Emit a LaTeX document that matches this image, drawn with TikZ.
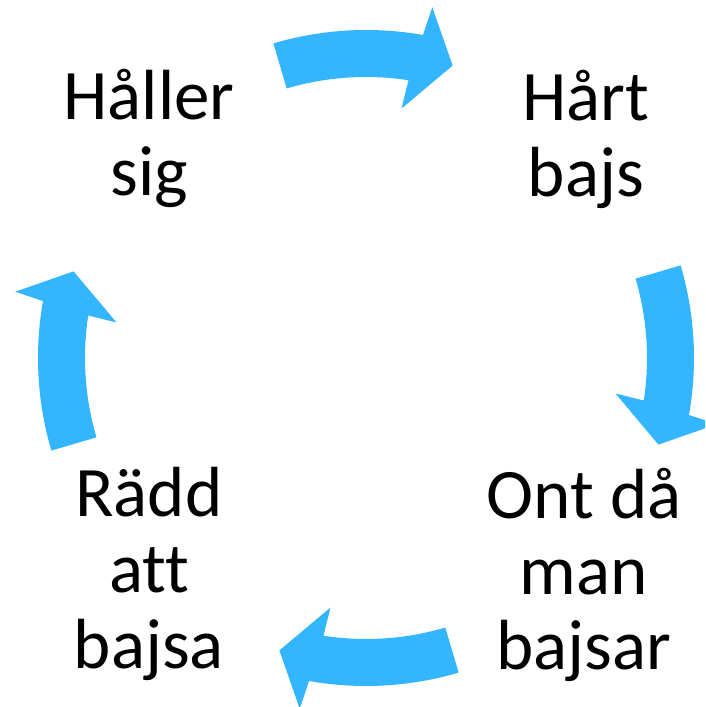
\documentclass[tikz,border=0pt]{standalone}
\usepackage{fontspec}
\setmainfont{Carlito}[Ligatures=NoCommon]
\usetikzlibrary{calc}

\definecolor{cycleblue}{RGB}{51,182,255}

\begin{document}
\begin{tikzpicture}[x=1pt,y=1pt,
    txt/.style={align=center, inner sep=0pt, anchor=base, font=\fontsize{71}{76}\selectfont},
    cyclearrow/.style={fill=cycleblue}]

% Canvas
\clip (0,0) rectangle (705,707);
\coordinate (mid) at (366,349);

% Texts (anchor = last line)
\node[txt] (hold) at (149,511) {Håller\\sig};
\node[txt] (hard) at (586,510) {Hårt\\bajs};
\node[txt] (pain) at (584,37) {Ont då\\man\\bajsar};
\node[txt] (fear) at (149,38) {Rädd\\att\\bajsa};

% Arrows
\foreach \r in {0,-90,-180,-270}{
\begin{scope}[rotate around={\r:(mid)}]
\fill[cyclearrow] ($(mid)+(106.4:328)$) arc[start angle=106.4, end angle=80, radius=328]
    -- ($(mid)+(79.3:357)$) -- ($(mid)+(73.5:305)$) -- ($(mid)+(81.9:252)$)
    -- ($(mid)+(81.3:281)$) arc[start angle=81.3, end angle=106.4, radius=281] -- cycle;
\end{scope}
}
\end{tikzpicture}
\end{document}
